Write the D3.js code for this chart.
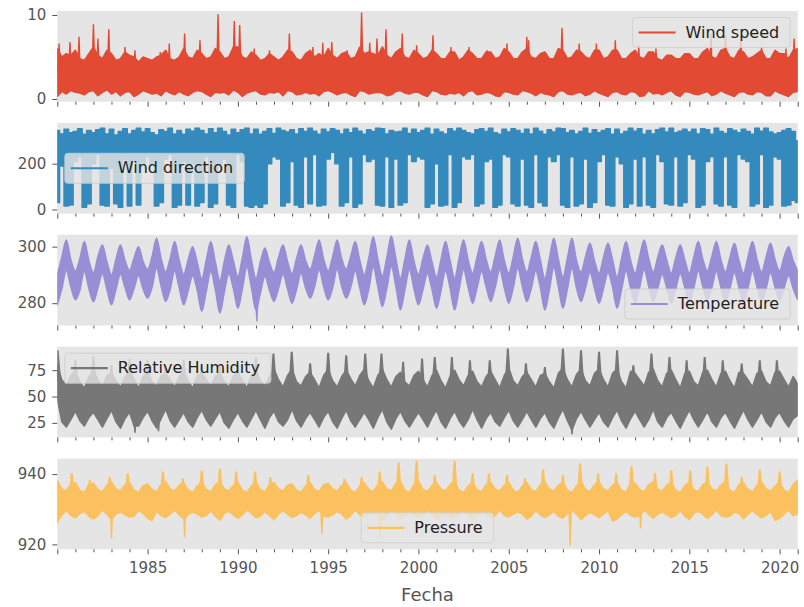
<!DOCTYPE html>
<html lang="en">
<head>
<meta charset="UTF-8" />
<title>Weather station series 1980-2020</title>
<script src="https://d3js.org/d3.v7.min.js"></script>
<style>
  body { margin: 0; background: #fff; }
  svg { display: block; font-family: "DejaVu Sans", sans-serif; }
</style>
</head>
<body>
<svg id="chart" width="804" height="607"></svg>
<script>
// sample dates: 1 Jan, 1 Apr, 1 Jul, 1 Oct of every year, plus the last day
const years = d3.range(1980, 2021);
const sampleMonths = [0, 3, 6, 9];
const sampleDates = [];
years.forEach(yr => sampleMonths.forEach(m => sampleDates.push(new Date(Date.UTC(yr, m, 1)))));
sampleDates.push(new Date(Date.UTC(2020, 11, 31)));

const labelYears = [1985, 1990, 1995, 2000, 2005, 2010, 2015, 2020];

// Wind speed: lower / upper edge of the dense band
const windSpeedLo = [
  0.3, 0.9, 0.6, 1.0,  0.8, 0.7, 0.5, 0.9,  1.0, 0.4, 0.8, 1.1,  0.6, 0.9, 0.4, 0.8,
  0.9, 0.3, 0.6, 1.0,  0.8, 0.6, 0.7, 0.4,  1.0, 0.7, 0.5, 0.9,  0.6, 0.4, 0.8, 1.0,
  0.9, 0.6, 0.3, 0.8,  0.7, 0.8, 0.5, 1.1,  0.8, 0.3, 0.7, 0.9,  1.0, 0.6, 0.5, 0.8,
  0.7, 0.9, 0.4, 1.0,  0.9, 0.5, 0.6, 0.8,  0.6, 0.7, 0.4, 0.9,  1.0, 0.8, 0.5, 0.7,
  0.8, 0.5, 0.3, 1.0,  0.9, 0.6, 0.7, 0.8,  0.7, 0.4, 0.5, 0.9,  1.0, 0.7, 0.6, 0.8,
  0.8, 0.5, 0.3, 1.0,  0.9, 0.6, 0.5, 0.7,  0.6, 0.8, 0.4, 0.9,  1.0, 0.5, 0.6, 0.8,
  0.7, 0.4, 0.3, 0.9,  0.8, 0.6, 0.5, 1.0,  0.9, 0.7, 0.4, 0.8,  0.6, 0.5, 0.3, 0.9,
  1.0, 0.6, 0.5, 0.7,  0.8, 0.4, 0.6, 1.0,  0.7, 0.5, 0.3, 0.8,  0.9, 0.6, 0.5, 0.9,
  0.8, 0.3, 0.4, 1.0,  0.6, 0.7, 0.5, 0.8,  1.0, 0.5, 0.3, 0.9,  0.8, 0.6, 0.5, 0.7,
  0.9, 0.4, 0.6, 1.0,  0.7, 0.5, 0.3, 0.8,  0.9, 0.6, 0.5, 0.9,  0.8, 0.4, 0.4, 1.0,
  0.7, 0.5, 0.3, 0.8,  0.9
];
const windSpeedHi = [
  6.0, 5.0, 5.4, 5.2,  5.8, 4.8, 4.6, 5.4,  6.2, 5.2, 4.8, 5.8,  5.4, 4.6, 4.8, 5.6,
  5.2, 5.0, 4.4, 5.0,  4.8, 4.6, 5.0, 5.2,  5.8, 4.8, 4.6, 5.0,  6.0, 5.0, 4.8, 5.8,
  5.4, 4.8, 5.0, 6.0,  5.6, 4.8, 5.0, 6.2,  6.2, 5.0, 4.8, 5.6,  5.2, 4.6, 4.8, 5.4,
  5.0, 4.6, 5.0, 5.8,  5.6, 4.8, 4.6, 5.4,  5.8, 5.0, 5.4, 5.0,  6.0, 5.2, 4.8, 5.4,
  5.6, 4.8, 5.0, 6.2,  5.4, 5.6, 5.4, 5.2,  6.2, 5.2, 4.8, 5.6,  6.0, 5.0, 4.8, 5.8,
  5.4, 4.8, 5.0, 5.8,  5.4, 4.8, 4.8, 5.6,  5.6, 4.6, 5.0, 5.8,  5.4, 4.8, 4.8, 5.6,
  5.6, 4.8, 5.0, 6.0,  5.6, 4.8, 4.8, 5.6,  6.0, 5.0, 4.8, 5.4,  5.6, 4.8, 4.8, 6.0,
  5.8, 4.8, 5.0, 5.8,  5.6, 5.0, 4.8, 5.8,  5.8, 4.8, 5.0, 5.8,  5.8, 4.8, 4.8, 5.4,
  5.8, 5.0, 4.8, 5.6,  5.6, 4.8, 4.6, 5.2,  5.2, 4.8, 4.8, 5.4,  5.4, 4.8, 4.8, 5.6,
  6.0, 5.0, 4.8, 5.8,  6.0, 5.0, 4.8, 5.8,  5.6, 4.8, 5.0, 5.4,  5.8, 4.8, 4.8, 5.8,
  5.4, 5.4, 4.8, 5.8,  6.0
];
// isolated gusts above the band (decimal year, m/s)
const windSpeedPeakYears = [
  1980.1, 1980.7, 1981.2, 1982.0, 1982.25, 1982.85, 1983.75, 1984.3, 1985.7, 1986.2,
  1987.05, 1987.9, 1988.9, 1989.8, 1990.1, 1990.9, 1991.75, 1992.85, 1994.15, 1994.7,
  1995.2, 1996.05, 1996.85, 1997.3, 1997.7, 1998.2, 1999.1, 1999.9, 2000.8, 2001.8,
  2002.8, 2003.8, 2004.9, 2006.0, 2006.1, 2007.95, 2008.9, 2009.85, 2010.9, 2012.2,
  2013.15, 2016.2, 2017.0, 2017.85, 2019.0, 2020.35, 2020.8
];
const windSpeedPeakValues = [
  6.6, 6.8, 7.4, 8.9, 7.2, 8.3, 6.2, 5.8, 5.6, 6.6,
  7.8, 7.0, 10.1, 9.3, 8.8, 6.0, 5.8, 7.8, 6.2, 6.7,
  6.8, 5.8, 10.3, 6.7, 7.2, 8.3, 7.8, 6.4, 7.6, 6.2,
  6.2, 5.8, 6.6, 7.4, 7.0, 8.5, 6.6, 6.6, 7.0, 6.4,
  6.0, 7.8, 7.6, 7.4, 6.2, 6.0, 7.2
];

// Wind direction: strands reaching the bottom alternate with gaps
const windDirLo = [
  30, 190, 15, 20,    210, 230, 10, 25,   200, 240, 20, 15,   180, 25, 10, 220,
  15, 210, 20, 190,   230, 200, 15, 30,   220, 240, 10, 20,   210, 20, 200, 15,
  30, 230, 10, 25,    200, 220, 20, 10,   240, 210, 15, 10,   20, 10, 25, 200,
  230, 220, 15, 30,   210, 20, 10, 230,   25, 240, 15, 20,    220, 250, 200, 15,
  30, 230, 10, 25,    240, 210, 220, 20,  15, 230, 10, 220,   20, 30, 240, 210,
  230, 220, 10, 25,   200, 15, 20, 240,   10, 30, 230, 220,   240, 15, 25, 210,
  220, 10, 20, 240,   230, 25, 15, 220,   20, 10, 240, 30,    15, 230, 210, 240,
  20, 10, 230, 15,    25, 220, 10, 30,    210, 240, 20, 15,   230, 200, 10, 25,
  220, 15, 230, 20,   10, 240, 210, 25,   20, 230, 15, 30,    240, 220, 10, 20,
  210, 230, 25, 15,   230, 20, 10, 240,   220, 210, 15, 25,   240, 10, 20, 230,
  220, 15, 20, 40,    30
];
const windDirHi = [
  345, 330, 350, 335,  340, 352, 328, 345,  335, 348, 355, 330,  350, 325, 340, 352,
  330, 345, 355, 338,  352, 335, 325, 348,  340, 355, 330, 345,  328, 350, 342, 355,
  345, 330, 352, 335,  355, 340, 325, 350,  335, 348, 355, 330,  350, 328, 340, 352,
  332, 355, 345, 338,  348, 330, 352, 340,  355, 342, 328, 350,  338, 352, 345, 330,
  350, 335, 355, 342,  328, 348, 340, 355,  352, 330, 345, 338,  340, 355, 332, 350,
  335, 345, 355, 328,  350, 338, 330, 352,  342, 355, 345, 335,  330, 348, 352, 340,
  355, 335, 328, 350,  338, 352, 345, 332,  350, 330, 355, 342,  328, 348, 338, 355,
  352, 335, 345, 330,  340, 355, 332, 348,  335, 345, 352, 328,  350, 330, 340, 355,
  342, 352, 328, 345,  330, 348, 355, 338,  355, 335, 342, 350,  338, 350, 330, 352,
  348, 328, 355, 340,  332, 352, 345, 335,  350, 340, 328, 355,  342, 355, 338, 330,
  335, 345, 352, 340,  300
];

// Temperature (K)
const temperatureLo = [
  279.4, 285.0, 291.6, 285.8,  281.2, 284.6, 291.2, 285.2,  280.5, 285.4, 290.4, 284.8,
  279.4, 284.8, 290.2, 285.6,  281.2, 285.2, 289.8, 285.0,  281.8, 285.6, 292.4, 286.0,
  280.6, 284.8, 291.4, 285.4,  279.4, 284.4, 289.6, 284.6,  277.1, 284.2, 291.2, 284.8,
  276.5, 283.8, 290.4, 285.2,  278.2, 285.0, 292.8, 285.6,  277.5, 283.6, 289.4, 284.6,
  280.6, 285.2, 290.2, 285.0,  280.0, 284.8, 290.6, 285.4,  281.8, 285.8, 291.8, 285.8,
  281.2, 285.4, 292.0, 286.0,  281.8, 285.6, 291.4, 285.4,  279.4, 285.0, 292.8, 285.8,
  278.8, 285.2, 293.0, 286.0,  277.6, 284.6, 291.8, 285.2,  279.4, 284.8, 290.4, 284.8,
  278.2, 284.4, 291.4, 285.4,  277.6, 284.8, 291.8, 285.6,  280.0, 285.4, 291.2, 285.8,
  280.6, 285.6, 291.8, 285.4,  280.0, 285.4, 292.4, 286.0,  280.6, 285.2, 291.4, 285.6,
  277.6, 284.6, 292.6, 285.8,  278.2, 285.0, 292.4, 285.4,  280.6, 285.4, 290.8, 285.2,
  280.0, 285.2, 290.8, 285.6,  278.2, 284.8, 291.4, 285.4,  280.0, 285.6, 291.8, 286.0,
  280.5, 285.2, 290.2, 285.4,  280.0, 285.0, 290.4, 285.6,  280.0, 285.4, 291.4, 285.8,
  281.0, 285.6, 291.2, 285.6,  280.5, 285.2, 290.8, 285.4,  280.0, 285.4, 291.4, 285.8,
  280.5, 285.2, 290.8, 285.6,  281.0, 285.4, 289.8, 285.2,  281.2
];
const temperatureHi = [
  290.0, 296.2, 302.4, 295.4,  291.4, 295.8, 301.8, 295.0,  290.8, 296.4, 300.6, 294.6,
  290.0, 295.6, 300.6, 295.2,  291.6, 296.0, 300.0, 294.8,  292.0, 296.6, 303.0, 295.8,
  291.0, 295.8, 301.8, 295.2,  290.2, 295.4, 300.0, 294.4,  288.6, 295.2, 301.8, 294.6,
  288.0, 294.8, 300.6, 295.0,  289.4, 296.0, 303.5, 295.4,  288.8, 294.6, 299.5, 294.4,
  290.8, 296.2, 300.6, 294.8,  290.4, 295.8, 300.6, 295.2,  292.0, 296.8, 302.4, 295.6,
  291.4, 296.4, 302.4, 295.8,  292.0, 296.6, 301.8, 295.2,  290.0, 296.0, 303.5, 295.6,
  289.6, 296.2, 303.8, 295.8,  288.8, 295.6, 302.4, 295.0,  290.2, 295.8, 300.6, 294.6,
  289.2, 295.4, 301.8, 295.2,  288.8, 295.8, 302.4, 295.4,  290.6, 296.4, 301.8, 295.6,
  291.0, 296.6, 302.4, 295.2,  290.6, 296.4, 303.0, 295.8,  291.0, 296.2, 301.8, 295.4,
  288.8, 295.6, 303.0, 295.6,  289.2, 296.0, 303.0, 295.2,  291.0, 296.4, 301.2, 295.0,
  290.6, 296.2, 301.2, 295.4,  289.2, 295.8, 301.8, 295.2,  290.6, 296.6, 302.4, 295.8,
  291.0, 296.2, 300.6, 295.2,  290.6, 296.0, 300.6, 295.4,  290.6, 296.4, 301.8, 295.6,
  291.4, 296.6, 301.8, 295.4,  291.0, 296.2, 301.2, 295.2,  290.6, 296.4, 301.8, 295.6,
  291.0, 296.2, 301.2, 295.4,  291.4, 296.4, 300.0, 295.0,  291.6
];
const temperatureDipYears = [1991.05];
const temperatureDipValues = [273.6];

// Relative humidity (%): dense band, winter peaks listed separately
const humidityLo = [
  48, 26, 21, 28,  36, 27, 22, 30,  35, 28, 21, 29,  37, 26, 20, 29,  35, 22, 22, 30,
  36, 27, 20, 29,  38, 27, 21, 28,  35, 26, 21, 30,  37, 28, 22, 29,  36, 25, 20, 28,
  35, 27, 21, 29,  37, 28, 20, 30,  36, 26, 22, 28,  38, 27, 21, 29,  35, 28, 21, 30,
  36, 26, 20, 29,  37, 27, 21, 28,  35, 28, 20, 30,  38, 26, 19, 29,  36, 27, 21, 28,
  35, 28, 21, 30,  37, 26, 20, 29,  36, 27, 21, 28,  38, 28, 20, 29,  35, 26, 22, 30,
  37, 27, 21, 28,  36, 28, 21, 29,  35, 26, 20, 30,  38, 27, 18, 29,  36, 28, 21, 28,
  35, 26, 21, 30,  37, 27, 20, 29,  36, 28, 21, 28,  38, 26, 21, 30,  35, 27, 20, 29,
  37, 28, 21, 28,  36, 26, 21, 30,  35, 27, 20, 29,  37, 28, 21, 28,  36, 26, 21, 30,
  35, 27, 21, 29,  32
];
const humidityHi = [
  80, 66, 60, 70,  74, 64, 58, 69,  75, 66, 60, 70,  72, 65, 59, 68,  74, 67, 58, 69,
  74, 64, 60, 70,  72, 66, 59, 69,  74, 65, 58, 70,  72, 66, 60, 69,  72, 64, 59, 70,
  72, 66, 58, 70,  75, 65, 60, 69,  76, 66, 59, 70,  76, 64, 60, 69,  73, 66, 58, 70,
  76, 65, 59, 69,  75, 67, 60, 70,  76, 65, 58, 70,  76, 66, 59, 69,  73, 64, 60, 70,
  74, 66, 59, 70,  75, 65, 58, 69,  75, 66, 60, 70,  74, 64, 59, 69,  74, 66, 58, 70,
  77, 65, 60, 69,  73, 66, 59, 70,  72, 64, 58, 72,  77, 66, 59, 71,  76, 65, 60, 72,
  76, 66, 59, 72,  76, 64, 58, 74,  72, 66, 60, 73,  76, 65, 59, 72,  75, 66, 58, 72,
  74, 64, 60, 73,  75, 66, 59, 72,  74, 65, 58, 73,  72, 66, 59, 72,  74, 64, 60, 73,
  74, 66, 59, 69,  62
];
const humidityPeakYears = [
  1980.02, 1981.0, 1982.0, 1983.0, 1984.0, 1985.0, 1986.0, 1987.0, 1988.0, 1989.0,
  1990.0, 1991.0, 1991.97, 1992.98, 1994.0, 1995.0, 1996.0, 1997.05, 1997.95, 1999.15,
  2000.2, 2000.9, 2001.85, 2002.85, 2003.95, 2004.95, 2005.95, 2007.0, 2008.0, 2009.0,
  2010.0, 2011.0, 2011.9, 2012.9, 2013.9, 2014.85, 2015.85, 2016.85, 2017.9, 2018.9,
  2019.85
];
const humidityPeakValues = [
  94, 85, 88, 80, 86, 85, 80, 85, 80, 80,
  80, 87, 90.8, 92.4, 81.6, 91.6, 89.2, 90.8, 90.8, 82.9,
  86, 87.6, 87.6, 84.4, 84.4, 95.5, 81.6, 78, 95.5, 93.9,
  92.4, 93.9, 79.7, 90.8, 87.6, 84.4, 87.6, 84.4, 81.4, 84.4,
  84.4
];
const humidityDipYears = [1984.3, 1985.6, 2008.5];
const humidityDipValues = [15.7, 17.0, 14.2];

// Pressure (hPa): dense band, winter peaks and sharp drops listed separately
const pressureLo = [
  926.2, 928.4, 929.6, 928.2,  927.6, 928.8, 929.4, 928.0,  927.2, 928.2, 929.8, 928.6,
  927.0, 928.6, 929.2, 928.4,  927.8, 928.0, 929.6, 928.8,  927.4, 926.8, 929.4, 928.2,
  927.6, 928.6, 929.8, 928.4,  927.2, 928.4, 929.2, 928.6,  927.8, 928.2, 929.6, 928.0,
  926.8, 928.8, 929.4, 928.4,  927.4, 928.4, 929.8, 928.8,  927.6, 928.0, 929.4, 928.2,
  927.0, 928.6, 929.6, 928.6,  927.6, 928.2, 929.2, 928.4,  927.4, 928.8, 929.6, 928.0,
  927.8, 928.4, 929.4, 928.6,  927.2, 928.2, 929.8, 928.4,  927.6, 928.6, 929.2, 928.2,
  926.8, 928.4, 929.6, 928.8,  927.4, 928.0, 929.4, 928.4,  927.8, 928.6, 929.8, 928.6,
  927.2, 928.2, 929.2, 928.0,  927.6, 928.8, 929.6, 928.4,  927.0, 928.4, 929.4, 928.8,
  927.4, 928.2, 929.8, 928.2,  927.8, 928.6, 929.2, 928.6,  927.2, 928.0, 929.6, 928.4,
  927.6, 928.4, 929.4, 928.0,  927.4, 928.8, 929.8, 928.6,  927.0, 928.2, 929.2, 928.4,
  927.6, 928.6, 929.6, 926.6,  927.2, 928.4, 929.4, 928.2,  927.8, 928.0, 929.8, 928.6,
  927.4, 928.6, 929.2, 928.4,  927.6, 928.2, 929.6, 928.0,  927.0, 928.8, 929.4, 928.6,
  927.4, 928.4, 929.8, 928.2,  927.8, 928.0, 929.2, 928.8,  927.2, 928.6, 929.6, 928.4,
  927.6, 928.2, 929.4, 926.8,  927.4, 928.6, 929.8, 928.2,  928.6
];
const pressureHi = [
  938.2, 935.8, 935.2, 937.2,  937.6, 935.4, 934.8, 937.0,  937.4, 935.6, 935.0, 936.8,
  937.8, 935.8, 935.2, 937.0,  937.6, 935.4, 934.8, 936.6,  937.2, 935.6, 935.0, 937.0,
  937.8, 935.8, 935.2, 936.8,  937.6, 935.4, 934.8, 936.6,  937.8, 935.6, 935.0, 937.0,
  937.8, 935.8, 935.2, 936.8,  937.6, 935.4, 934.8, 936.6,  937.8, 935.6, 935.0, 937.0,
  937.6, 935.8, 935.2, 936.8,  937.2, 935.4, 934.8, 936.6,  937.6, 935.6, 935.0, 937.0,
  937.4, 935.8, 935.2, 936.8,  937.6, 935.4, 934.8, 936.6,  937.6, 935.6, 935.0, 937.0,
  937.8, 935.8, 935.2, 937.4,  938.0, 935.4, 934.8, 937.0,  938.0, 935.6, 935.0, 936.8,
  937.6, 935.8, 935.2, 937.0,  938.0, 935.4, 934.8, 936.6,  937.8, 935.6, 935.0, 937.0,
  937.6, 935.8, 935.2, 936.8,  937.6, 935.4, 934.8, 936.6,  937.6, 935.6, 935.0, 937.0,
  937.8, 935.8, 935.2, 936.8,  937.6, 935.4, 934.8, 936.6,  938.0, 935.6, 935.0, 937.0,
  937.8, 935.8, 935.2, 936.8,  937.6, 935.4, 934.8, 937.6,  937.4, 935.6, 935.0, 937.0,
  937.8, 935.8, 935.2, 936.8,  937.8, 935.4, 934.8, 936.6,  937.8, 935.6, 935.0, 937.0,
  937.8, 935.8, 935.2, 936.8,  938.0, 935.4, 934.8, 937.0,  937.6, 935.6, 935.0, 936.8,
  937.8, 935.8, 935.2, 936.6,  937.8, 935.4, 934.8, 937.0,  938.3
];
const pressurePeakYears = [
  1980.8, 1981.8, 1982.9, 1983.9, 1985.85, 1986.95, 1988.0, 1989.0, 1989.9, 1990.95,
  1991.8, 1993.9, 1995.9, 1996.85, 1997.85, 1998.9, 1999.9, 2000.9, 2002.0, 2003.0,
  2003.9, 2004.9, 2005.9, 2006.9, 2008.0, 2008.95, 2009.95, 2010.95, 2011.8, 2013.1,
  2014.0, 2015.05, 2016.0, 2017.05, 2017.9, 2018.9, 2020.0
];
const pressurePeakValues = [
  940.2, 938.3, 939.2, 940.2, 940.7, 938.8, 941.0, 941.6, 940.7, 940.7,
  939.2, 939.7, 938.8, 939.2, 940.7, 943.3, 943.8, 939.7, 943.8, 940.2,
  940.2, 939.7, 938.8, 941.3, 939.7, 943.0, 940.2, 940.2, 942.3, 940.2,
  941.1, 941.1, 942.1, 942.9, 939.2, 941.3, 940.7
];
const pressureDipYears = [1983.0, 1987.05, 1994.65, 1997.85, 2008.4, 2012.3];
const pressureDipValues = [921.7, 922.0, 922.9, 921.5, 919.6, 924.6];

// ---- layout ----
const svg = d3.select("#chart");
const plotLeft = 57.3, plotRight = 797.7;
const panelTop = 11, panelHeight = 90.7, panelGap = 21.2;
const tickColor = "#555555";

const x = d3.scaleUtc()
  .domain([new Date(Date.UTC(1980, 0, 1)), new Date(Date.UTC(2021, 0, 1))])
  .range([plotLeft, plotRight]);

function yearToDate(v) {
  const yr = Math.floor(v);
  const a = Date.UTC(yr, 0, 1), b = Date.UTC(yr + 1, 0, 1);
  return new Date(a + (v - yr) * (b - a));
}

const panels = [
  { name: "Wind speed", color: "#E24A33", lo: windSpeedLo, hi: windSpeedHi,
    domain: [-0.32, 10.48], ticks: [0, 10], curve: d3.curveLinear, legend: ["top", "right"],
    spikes: [{ years: windSpeedPeakYears, values: windSpeedPeakValues, up: true, base: 2, tip: 0.7 }] },
  { name: "Wind direction", color: "#348ABD", lo: windDirLo, hi: windDirHi,
    domain: [-18, 378], ticks: [0, 200], curve: d3.curveStep, legend: ["center", "left"], spikes: [] },
  { name: "Temperature", color: "#988ED5", lo: temperatureLo, hi: temperatureHi,
    domain: [272.1, 304.2], ticks: [280, 300], curve: d3.curveMonotoneX, legend: ["bottom", "right"],
    spikes: [{ years: temperatureDipYears, values: temperatureDipValues, up: false, base: 2, tip: 0.7 }] },
  { name: "Relative Humidity", color: "#777777", lo: humidityLo, hi: humidityHi,
    domain: [11.2, 97.3], ticks: [25, 50, 75], curve: d3.curveLinear, legend: ["top", "left"],
    spikes: [{ years: humidityPeakYears, values: humidityPeakValues, up: true, base: 3.5, tip: 1 },
             { years: humidityDipYears, values: humidityDipValues, up: false, base: 2.5, tip: 0.8 }] },
  { name: "Pressure", color: "#FBC15E", lo: pressureLo, hi: pressureHi,
    domain: [918.6, 944.4], ticks: [920, 940], curve: d3.curveLinear, legend: ["bottom", "center"],
    spikes: [{ years: pressurePeakYears, values: pressurePeakValues, up: true, base: 3.5, tip: 1 },
             { years: pressureDipYears, values: pressureDipValues, up: false, base: 2, tip: 0.7 }] }
];

const tickYears = d3.range(1980, 2022);
const isMajor = yr => yr % 5 === 0 || yr === 2021;
const majorDates = tickYears.filter(isMajor).map(yr => new Date(Date.UTC(yr, 0, 1)));
const minorDates = tickYears.filter(yr => !isMajor(yr)).map(yr => new Date(Date.UTC(yr, 0, 1)));

panels.forEach((p, i) => {
  const top = panelTop + i * (panelHeight + panelGap);
  const bottom = top + panelHeight;
  const y = d3.scaleLinear().domain(p.domain).range([bottom, top]);
  const g = svg.append("g");

  g.append("rect")
    .attr("x", plotLeft).attr("y", top)
    .attr("width", plotRight - plotLeft).attr("height", panelHeight)
    .attr("fill", "#E5E5E5");

  g.append("clipPath").attr("id", "clip" + i)
    .append("rect")
    .attr("x", plotLeft).attr("y", top)
    .attr("width", plotRight - plotLeft).attr("height", panelHeight);

  const plot = g.append("g").attr("clip-path", `url(#clip${i})`);
  const rows = sampleDates.map((d, k) => ({ date: d, lo: p.lo[k], hi: p.hi[k] }));

  const area = d3.area()
    .x(d => x(d.date))
    .y0(d => y(d.lo))
    .y1(d => y(d.hi))
    .curve(p.curve);

  plot.append("path")
    .datum(rows)
    .attr("d", area)
    .attr("fill", p.color)
    .attr("stroke", p.color)
    .attr("stroke-width", 1.5)
    .attr("stroke-linejoin", "round");

  // narrow spikes rising out of (or dropping below) the band
  p.spikes.forEach(s => {
    const spikeRows = s.years.map((yr, k) => {
      const date = yearToDate(yr);
      const near = rows[d3.bisector(r => r.date).center(rows, date)];
      return { date, value: s.values[k], base: (near.hi + near.lo) / 2 };
    });
    plot.append("g").selectAll("path")
      .data(spikeRows)
      .join("path")
      .attr("fill", p.color)
      .attr("d", d => {
        const cx = x(d.date), yb = y(d.base), yt = y(d.value);
        return `M${cx - s.base},${yb}L${cx - s.tip},${yt}L${cx + s.tip},${yt}L${cx + s.base},${yb}Z`;
      });
  });

  // y axis
  const yAxis = g.append("g")
    .attr("transform", `translate(${plotLeft},0)`)
    .call(d3.axisLeft(y).tickValues(p.ticks).tickSize(5).tickPadding(6));
  yAxis.select(".domain").remove();
  yAxis.attr("color", tickColor).attr("font-size", 15).attr("font-family", "DejaVu Sans, sans-serif");

  // x axis (labels only on the last panel)
  const last = i === panels.length - 1;
  const xMajor = g.append("g")
    .attr("transform", `translate(0,${bottom})`)
    .call(d3.axisBottom(x).tickValues(majorDates).tickSize(5).tickPadding(8)
      .tickFormat(d => (last && labelYears.includes(d.getUTCFullYear())) ? d.getUTCFullYear() : ""));
  xMajor.select(".domain").remove();
  xMajor.attr("color", tickColor).attr("font-size", 15).attr("font-family", "DejaVu Sans, sans-serif");

  const xMinor = g.append("g")
    .attr("transform", `translate(0,${bottom})`)
    .call(d3.axisBottom(x).tickValues(minorDates).tickSize(3).tickFormat(""));
  xMinor.select(".domain").remove();
  xMinor.attr("color", tickColor);

  // legend
  const lg = g.append("g");
  const label = lg.append("text")
    .text(p.name)
    .attr("font-size", 16)
    .attr("fill", "#222");
  const tw = label.node().getComputedTextLength();
  const bw = 53 + tw + 11, bh = 30, padX = 7.5, padY = 6.5;
  const [vert, horiz] = p.legend;
  const bx = horiz === "right" ? plotRight - padX - bw
    : horiz === "left" ? plotLeft + padX
    : (plotLeft + plotRight) / 2 - bw / 2;
  const by = vert === "top" ? top + padY
    : vert === "bottom" ? bottom - padY - bh
    : top + panelHeight / 2 - bh / 2;
  lg.insert("rect", "text")
    .attr("x", bx).attr("y", by).attr("width", bw).attr("height", bh)
    .attr("rx", 3)
    .attr("fill", "#E5E5E5").attr("fill-opacity", 0.8)
    .attr("stroke", "#CCCCCC").attr("stroke-opacity", 0.8);
  lg.insert("line", "text")
    .attr("x1", bx + 6).attr("x2", bx + 43)
    .attr("y1", by + bh / 2).attr("y2", by + bh / 2)
    .attr("stroke", p.color).attr("stroke-width", 2.2);
  label.attr("x", bx + 53).attr("y", by + bh / 2 + 5.2);
});

svg.append("text")
  .attr("x", (plotLeft + plotRight) / 2)
  .attr("y", 601)
  .attr("text-anchor", "middle")
  .attr("font-size", 18)
  .attr("fill", tickColor)
  .text("Fecha");
</script>
</body>
</html>
